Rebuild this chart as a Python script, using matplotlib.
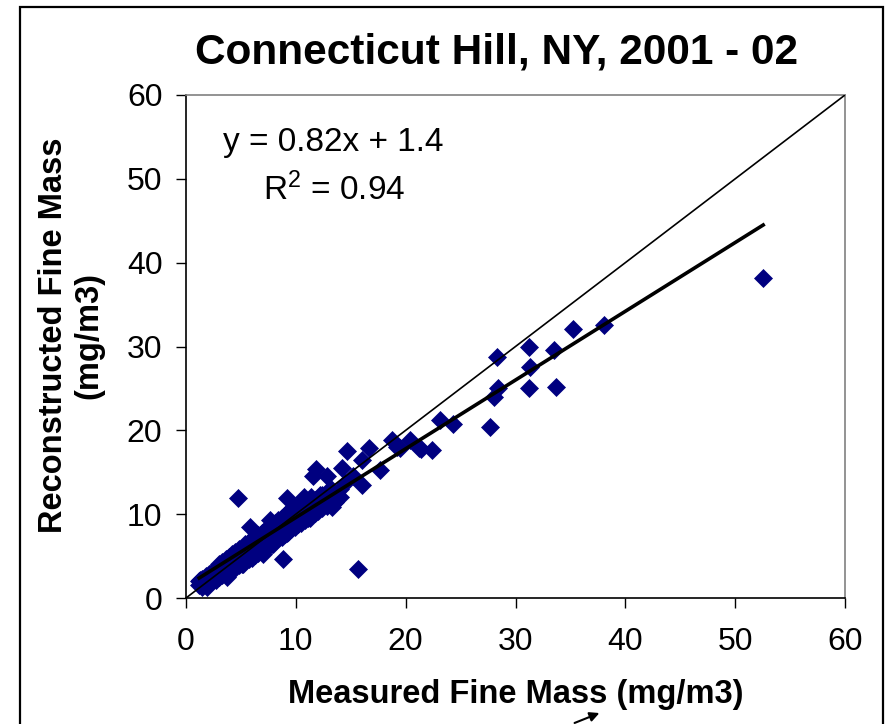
import matplotlib
matplotlib.use("Agg")
import matplotlib.pyplot as plt
from matplotlib.patches import Rectangle

plt.rcParams['font.family'] = ['Liberation Sans', 'DejaVu Sans']
plt.rcParams['mathtext.fontset'] = 'custom'
plt.rcParams['mathtext.rm'] = 'Liberation Sans'
plt.rcParams['mathtext.it'] = 'Liberation Sans'

title = "Connecticut Hill, NY, 2001 - 02"
x_label = "Measured Fine Mass (mg/m3)"
y_label = "Reconstructed Fine Mass\n(mg/m3)"
ticks = [0, 10, 20, 30, 40, 50, 60]
slope = 0.82
intercept = 1.4
r2 = 0.94

# dense cluster (measured, reconstructed)
cluster_x = [1.2, 1.2, 1.5, 1.5, 1.5, 1.8, 1.8, 1.8, 2.1, 2.1, 2.1, 2.4, 2.4, 2.4,
             2.7, 2.7, 2.7, 3.0, 3.0, 3.0, 3.0, 3.3, 3.3, 3.3, 3.3, 3.6, 3.6, 3.6, 3.6,
             3.9, 3.9, 3.9, 3.9, 4.2, 4.2, 4.2, 4.2, 4.5, 4.5, 4.5, 4.5, 4.8, 4.8, 4.8, 4.8,
             5.1, 5.1, 5.1, 5.1, 5.4, 5.4, 5.4, 5.4, 5.7, 5.7, 5.7, 5.7, 6.0, 6.0, 6.0, 6.0,
             6.3, 6.3, 6.3, 6.3, 6.6, 6.6, 6.6, 6.6, 6.9, 6.9, 6.9, 6.9, 7.2, 7.2, 7.2, 7.2,
             7.5, 7.5, 7.5, 7.5, 7.8, 7.8, 7.8, 7.8, 8.1, 8.1, 8.1, 8.1, 8.4, 8.4, 8.4, 8.4,
             8.7, 8.7, 8.7, 8.7, 9.0, 9.0, 9.0, 9.0, 9.3, 9.3, 9.3, 9.3, 9.6, 9.6, 9.6, 9.6,
             9.9, 9.9, 9.9, 9.9, 10.2, 10.2, 10.2, 10.2, 10.5, 10.5, 10.5, 10.5,
             10.8, 10.8, 10.8, 10.8, 11.1, 11.1, 11.1, 11.4, 11.4, 11.4, 11.4,
             11.7, 11.7, 11.7, 12.0, 12.0, 12.0, 12.4, 12.4, 12.4, 12.8, 12.8, 12.8,
             13.2, 13.2, 13.2, 13.6, 13.6, 14.0, 14.0]
cluster_y = [1.5, 2.0, 1.3, 1.8, 2.3, 1.5, 2.0, 2.6, 1.8, 2.3, 2.9, 2.0, 2.6, 3.1,
             2.2, 2.8, 3.4, 2.5, 3.0, 3.6, 4.0, 2.7, 3.2, 3.9, 4.3, 2.9, 3.5, 4.1, 4.6,
             3.1, 3.7, 4.3, 4.9, 3.4, 4.0, 4.6, 5.2, 3.6, 4.2, 4.9, 5.5, 3.9, 4.5, 5.1, 5.8,
             4.1, 4.8, 5.4, 6.0, 4.4, 5.0, 5.7, 6.4, 4.6, 5.2, 5.9, 6.7, 4.8, 5.5, 6.2, 7.0,
             5.1, 5.8, 6.5, 7.2, 5.4, 6.0, 6.8, 7.5, 5.6, 6.3, 7.1, 7.8, 5.9, 6.6, 7.4, 8.1,
             6.2, 6.9, 7.6, 8.4, 6.5, 7.2, 7.9, 8.7, 6.8, 7.5, 8.2, 9.0, 7.1, 7.8, 8.5, 9.3,
             7.3, 8.0, 8.8, 9.6, 7.6, 8.3, 9.1, 9.9, 7.9, 8.6, 9.4, 10.2, 8.2, 8.9, 9.7, 10.5,
             8.5, 9.2, 10.0, 10.8, 8.8, 9.5, 10.3, 11.0, 9.0, 9.8, 10.6, 11.3,
             9.3, 10.0, 10.8, 11.5, 9.6, 10.4, 11.1, 9.9, 10.6, 11.3, 12.0,
             10.1, 10.9, 11.7, 10.4, 11.2, 11.9, 10.7, 11.5, 12.3, 11.0, 11.8, 12.6,
             11.2, 12.1, 13.0, 11.5, 12.5, 12.0, 13.0]

# scattered points
scatter_x = [52.55, 38.07, 35.25, 31.2, 33.5, 28.3, 31.3, 31.2, 33.7, 28.4, 28.05,
             27.7, 23.1, 24.35, 20.4, 21.4, 22.4, 19.5, 4.77, 15.7, 8.8, 14.7, 16.7,
             18.8, 19.2, 21.2, 11.8, 11.6, 12.8, 14.2, 16.0, 17.7, 16.0, 14.5, 15.2,
             13.3, 11.3, 12.2, 9.2, 10.7, 5.8, 7.0, 5.2, 3.7, 1.9, 1.3, 9.2, 7.95, 7.65]
scatter_y = [38.2, 32.6, 32.1, 29.9, 29.6, 28.8, 27.6, 25.0, 25.2, 25.1, 24.0,
             20.4, 21.2, 20.7, 18.8, 17.8, 17.6, 17.9, 11.9, 3.46, 4.7, 17.5, 17.9,
             18.8, 18.05, 17.9, 15.4, 14.5, 14.5, 15.5, 16.5, 15.3, 13.5, 13.7, 14.5,
             10.9, 9.5, 12.3, 11.9, 12.1, 8.5, 5.3, 4.1, 2.5, 1.35, 2.1, 7.7, 6.5, 9.3]

measured = cluster_x + scatter_x
reconstructed = cluster_y + scatter_y

fig = plt.figure(figsize=(8.89, 7.24), dpi=100)
ax = fig.add_axes([186/889, 1-598/724, (845-186)/889, (598-95)/724])

ax.plot(measured, reconstructed, linestyle='none', marker='D', markersize=8.8,
        color='#000080', markeredgecolor='#000080', markeredgewidth=0.5, zorder=2)

ax.plot([0, 60], [0, 60], color='black', linewidth=1.2, zorder=3)
xmin, xmax = min(measured), max(measured)
ax.plot([xmin, xmax], [slope*xmin + intercept, slope*xmax + intercept],
        color='black', linewidth=2.6, zorder=3)

ax.set_xlim(0, 60)
ax.set_ylim(0, 60)
ax.set_xticks(ticks)
ax.set_yticks(ticks)
ax.tick_params(axis='both', direction='out', length=7, width=1, labelsize=23, pad=14)
ax.tick_params(axis='y', pad=10)
for s in ['top', 'right']:
    ax.spines[s].set_color('#808080')
    ax.spines[s].set_linewidth(1.2)
for s in ['left', 'bottom']:
    ax.spines[s].set_color('black')
    ax.spines[s].set_linewidth(1.2)

ax.text(13.4, 54.3, f"y = {slope}x + {intercept}", fontsize=24, ha='center', va='center')
ax.text(13.5, 48.7, r"R$^2$ = " + f"{r2}", fontsize=24, ha='center', va='center')

fig.text(497/889, 1-53/724, title, fontsize=30.5, fontweight='bold', ha='center', va='center')
fig.text(516/889, 1-695/724, x_label, fontsize=23.5, fontweight='bold', ha='center', va='center')
fig.text(71/889, 1-335/724, y_label, fontsize=23.5, fontweight='bold', ha='center', va='center',
         rotation=90, linespacing=1.2)

fig.patches.append(Rectangle((20/889, -0.05), (883-20)/889, 1.05 - 7/724,
                             transform=fig.transFigure, fill=False, edgecolor='black',
                             linewidth=1.6))

fig.add_artist(matplotlib.patches.FancyArrowPatch((572/889, 1-724/724), (602/889, 1-712/724),
                                                  transform=fig.transFigure, arrowstyle='-|>',
                                                  mutation_scale=14, color='black', linewidth=1.5))

fig.savefig("out.png", dpi=100)
